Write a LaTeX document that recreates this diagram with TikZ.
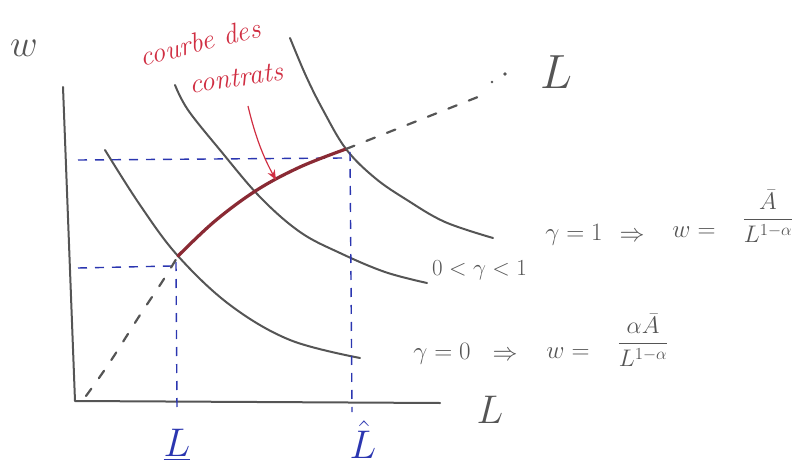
\RequirePackage{fix-cm}
\documentclass[tikz,border=0pt]{standalone}
\usepackage{amsmath}
\usetikzlibrary{arrows.meta}
\definecolor{inkgray}{HTML}{555555}
\definecolor{inkblue}{HTML}{2B36B0}
\definecolor{inkred}{HTML}{D02E42}
\definecolor{curvered}{HTML}{8A2A34}
\begin{document}
\begin{tikzpicture}[x=1pt,y=-1pt,
  ink/.style={line width=2pt,draw=inkgray,line cap=round,line join=round},
  bluedash/.style={line width=1.4pt,draw=inkblue,dash pattern=on 9pt off 8pt},
  graydash/.style={line width=2.2pt,draw=inkgray,dash pattern=on 9pt off 13pt,line cap=round},
  lbl/.style={text=inkgray,font=\fontsize{25}{27}\selectfont,inner sep=0pt},
  frac/.style={text=inkgray,font=\fontsize{24}{26}\selectfont,inner sep=0pt},
  small/.style={text=inkgray,font=\fontsize{23}{25}\selectfont,inner sep=0pt},
  bluelbl/.style={text=inkblue,font=\fontsize{40}{42}\selectfont,inner sep=0pt},
  redlbl/.style={text=inkred,font=\fontsize{28}{30}\selectfont\itshape,inner sep=0pt}]
\useasboundingbox (0,0) rectangle (810,473);

% key points
\coordinate (P1) at (178,256);
\coordinate (P2) at (346,149);
\coordinate (O) at (75,401);

% axes
\draw[ink] (63,87) -- (O) -- (440,403);
\node[lbl,font=\fontsize{38}{40}\selectfont] (omega) at (24,48) {$w$};
\node[lbl,font=\fontsize{40}{42}\selectfont] (Lax) at (490,410) {$L$};

% indifference curves
\draw[ink] plot[smooth,tension=0.6] coordinates {(105,150) (140,205) (P1) (230,305) (290,340) (360,358)};
\draw[ink] plot[smooth,tension=0.6] coordinates {(175,85) (188,110) (220,150) (260,197) (300,232) (340,253) (385,272) (427,283)};
\draw[ink] plot[smooth,tension=0.6] coordinates {(290,38) (306,76) (323,110) (P2) (375,178) (407,200) (445,222) (493,238)};

% blue dashed projections
\draw[bluedash] (78,160) -- (344,158);
\draw[bluedash] (350,152) -- (352,412);
\draw[bluedash] (78,268) -- (172,266);
\draw[bluedash] (176,262) -- (177,410);

% contract curve
\draw[line width=3.2pt,draw=curvered,line cap=round] plot[smooth,tension=0.6] coordinates {(P1) (215,221) (257,190) (300,167) (P2)};

% gray dashed extensions
\draw[graydash] plot[smooth,tension=0.7] coordinates {(86,396) (110,362) (140,315) (162,282) (P1)};
\draw[graydash] (P2) -- (488,93);
\fill[inkgray] (505,74) circle (1.8pt);
\fill[inkgray] (492,82) circle (1.4pt);
\node[lbl,font=\fontsize{48}{50}\selectfont] (Ltop) at (556,72) {$L$};

% red annotation
\node[redlbl,rotate=14] (courbe) at (200,42) {courbe des};
\node[redlbl,rotate=8] (contrats) at (236,78) {contrats};
\draw[inkred,line width=1.2pt,-{Stealth[length=10pt,width=8pt]}] (248,106) .. controls (256,140) and (265,160) .. (276,180);

% blue axis labels
\node[bluelbl] (Lund) at (177,445) {$\underline{L}$};
\node[bluelbl] (Lhat) at (363,440) {$\hat{L}$};

% curve labels
\node[small,anchor=west] (mid) at (432,270) {$0<\gamma<1$};
\node[lbl] (g1) at (574,235) {$\gamma=1$};
\node[lbl] (g1i) at (632,237) {$\Rightarrow$};
\node[lbl] (g1w) at (694,232) {$w=$};
\node[frac] (g1f) at (768,216) {$\dfrac{\bar A}{L^{1-\alpha}}$};
\node[lbl] (g0) at (442,354) {$\gamma=0$};
\node[lbl] (g0i) at (505,356) {$\Rightarrow$};
\node[lbl] (g0w) at (568,353) {$w=$};
\node[frac] (g0f) at (643,340) {$\dfrac{\alpha\bar A}{L^{1-\alpha}}$};
\end{tikzpicture}
\end{document}
